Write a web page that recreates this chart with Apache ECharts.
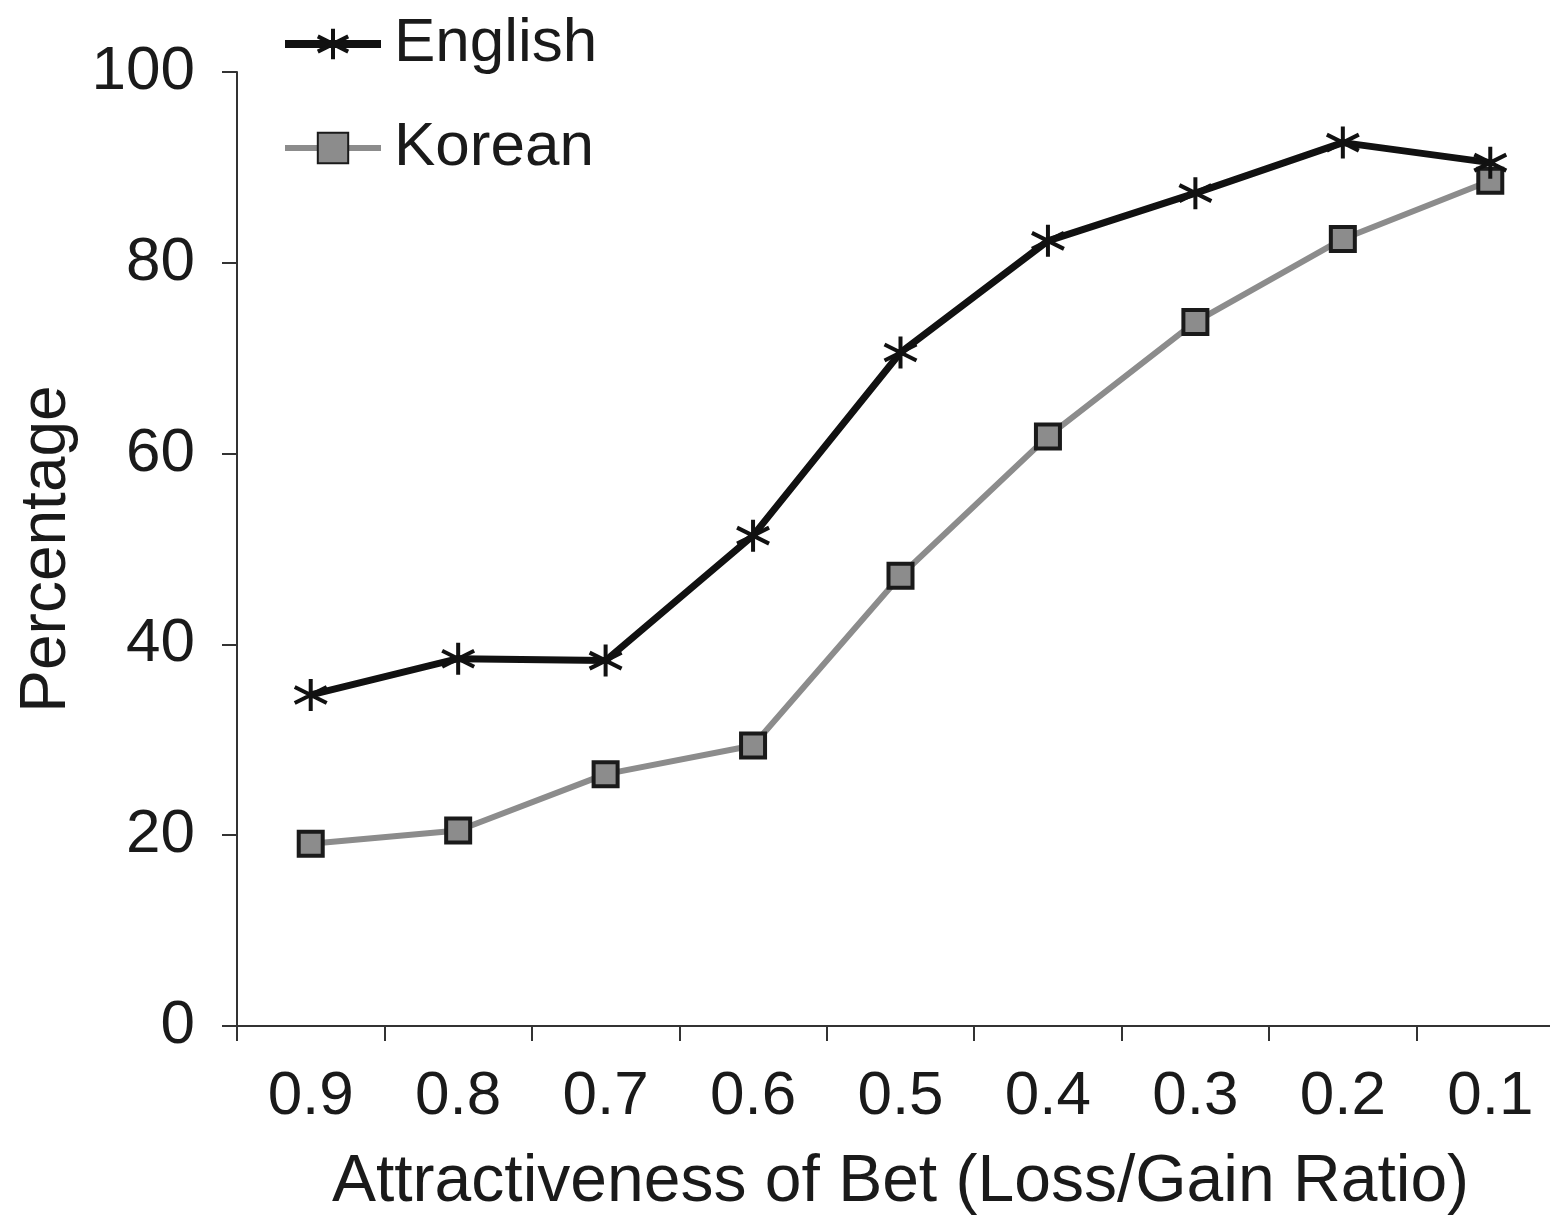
<!DOCTYPE html>
<html>
<head>
<meta charset="utf-8">
<script src="https://cdn.jsdelivr.net/npm/echarts@6/dist/echarts.min.js"></script>
<style>
html, body { margin: 0; padding: 0; background: #fff; }
#chartBox { width: 1550px; height: 1220px; }
</style>
</head>
<body>
<div id="chartBox"></div>
<script>
// data
var ratioLabels = ['0.9', '0.8', '0.7', '0.6', '0.5', '0.4', '0.3', '0.2', '0.1'];
var englishData = [34.7, 38.5, 38.3, 51.4, 70.6, 82.3, 87.3, 92.6, 90.5];
var koreanData = [19.1, 20.5, 26.4, 29.4, 47.2, 61.8, 73.8, 82.5, 88.6];

var fontName = '"Liberation Sans", Arial, sans-serif';
var starPath = 'path://M0,-10 L0,10 M-8.7,-5 L8.7,5 M-8.7,5 L8.7,-5';
var textColor = '#1a1a1a';

var myChart = echarts.init(document.getElementById('chartBox'));

var option = {
	animation : false,
	textStyle : { fontFamily : fontName },
	grid : {
		left : 237,
		top : 72,
		width : 1327,
		bottom : 194,
		outerBoundsMode : 'none'
	},
	legend : {
		orient : 'vertical',
		left : 276,
		top : 8,
		itemWidth : 96,
		itemHeight : 38,
		itemGap : 42,
		textStyle : { fontSize : 62, color : textColor, fontFamily : fontName, padding : [0, 0, 0, 8] },
		data : [ {
			name : 'English',
			lineStyle : { width : 8, color : '#111' },
			itemStyle : { borderWidth : 4 }
		}, {
			name : 'Korean',
			lineStyle : { width : 6, color : '#8c8c8c' }
		} ]
	},
	xAxis : {
		type : 'category',
		data : ratioLabels,
		boundaryGap : true,
		name : 'Attractiveness of Bet (Loss/Gain Ratio)',
		nameLocation : 'middle',
		nameGap : 124,
		nameTextStyle : { fontSize : 66, color : textColor },
		axisLine : { lineStyle : { color : '#333', width : 2 } },
		axisTick : { show : true, alignWithLabel : false, length : 15, lineStyle : { color : '#333', width : 2 } },
		axisLabel : { fontSize : 62, color : textColor, margin : 40 },
		splitLine : { show : false }
	},
	yAxis : {
		type : 'value',
		min : 0,
		max : 100,
		interval : 20,
		name : 'Percentage',
		nameLocation : 'middle',
		nameRotate : 90,
		nameGap : 158,
		nameTextStyle : { fontSize : 64, color : textColor },
		axisLine : { show : true, lineStyle : { color : '#333', width : 2 } },
		axisTick : { show : true, length : 15, lineStyle : { color : '#333', width : 2 } },
		axisLabel : { fontSize : 62, color : textColor, margin : 42 },
		splitLine : { show : false }
	},
	series : [ {
		name : 'Korean',
		type : 'line',
		data : koreanData,
		symbol : 'rect',
		symbolSize : 24,
		lineStyle : { color : '#8c8c8c', width : 6 },
		itemStyle : { color : '#8c8c8c', borderColor : '#1a1a1a', borderWidth : 4 },
		z : 2
	}, {
		name : 'English',
		type : 'line',
		data : englishData,
		symbol : starPath,
		symbolSize : 32,
		lineStyle : { color : '#111', width : 7 },
		itemStyle : { color : '#111', borderColor : '#111', borderWidth : 4 },
		z : 3
	} ]
};
myChart.setOption(option);
</script>
</body>
</html>
